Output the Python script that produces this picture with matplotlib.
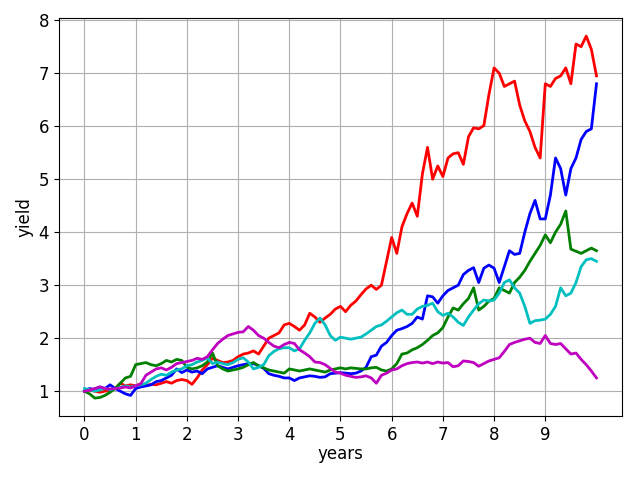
import numpy as np
import matplotlib
matplotlib.use("Agg")
import matplotlib.pyplot as plt

years = [round(0.1 * i, 1) for i in range(101)]

red = [1.00, 1.02, 1.00, 0.98, 1.00, 1.02, 1.05, 1.15, 1.10, 1.12,
       1.10, 1.14, 1.10, 1.13, 1.12, 1.15, 1.18, 1.15, 1.20, 1.22,
       1.20, 1.13, 1.25, 1.40, 1.50, 1.62, 1.58, 1.54, 1.55, 1.58,
       1.65, 1.70, 1.72, 1.76, 1.70, 1.85, 2.00, 2.05, 2.10, 2.25,
       2.28, 2.22, 2.15, 2.25, 2.47, 2.40, 2.30, 2.38, 2.45, 2.55,
       2.60, 2.50, 2.62, 2.70, 2.82, 2.93, 3.00, 2.92, 3.00, 3.45,
       3.90, 3.60, 4.10, 4.35, 4.55, 4.30, 5.10, 5.60, 5.00, 5.25,
       5.05, 5.40, 5.48, 5.50, 5.28, 5.80, 5.97, 5.95, 6.01, 6.60,
       7.10, 7.00, 6.75, 6.80, 6.85, 6.40, 6.10, 5.90, 5.60, 5.40,
       6.80, 6.75, 6.90, 6.95, 7.10, 6.80, 7.55, 7.50, 7.70, 7.45,
       6.95]

blue = [1.00, 1.05, 1.03, 1.08, 1.05, 1.12, 1.05, 1.00, 0.95, 0.92,
        1.05, 1.08, 1.10, 1.12, 1.18, 1.20, 1.25, 1.30, 1.42, 1.35,
        1.40, 1.36, 1.38, 1.33, 1.42, 1.45, 1.48, 1.45, 1.42, 1.45,
        1.48, 1.50, 1.52, 1.52, 1.48, 1.43, 1.33, 1.30, 1.28, 1.25,
        1.25, 1.20, 1.25, 1.27, 1.29, 1.28, 1.26, 1.27, 1.33, 1.34,
        1.35, 1.34, 1.33, 1.34, 1.38, 1.45, 1.65, 1.68, 1.85, 1.92,
        2.05, 2.15, 2.18, 2.22, 2.28, 2.40, 2.36, 2.80, 2.78, 2.66,
        2.80, 2.90, 2.95, 3.00, 3.20, 3.28, 3.33, 3.05, 3.32, 3.38,
        3.32, 3.05, 3.35, 3.65, 3.58, 3.60, 4.00, 4.35, 4.60, 4.25,
        4.25, 4.70, 5.40, 5.20, 4.70, 5.20, 5.40, 5.75, 5.90, 5.95,
        6.80]

green = [1.00, 0.95, 0.87, 0.88, 0.92, 0.98, 1.05, 1.15, 1.25, 1.28,
         1.50, 1.52, 1.54, 1.50, 1.48, 1.52, 1.58, 1.55, 1.60, 1.58,
         1.45, 1.42, 1.44, 1.48, 1.55, 1.72, 1.48, 1.42, 1.38, 1.40,
         1.42, 1.45, 1.50, 1.54, 1.48, 1.44, 1.40, 1.38, 1.36, 1.34,
         1.42, 1.40, 1.38, 1.40, 1.42, 1.40, 1.38, 1.36, 1.40, 1.42,
         1.44, 1.42, 1.44, 1.43, 1.42, 1.42, 1.44, 1.45, 1.40, 1.38,
         1.42, 1.52, 1.70, 1.72, 1.78, 1.82, 1.88, 1.96, 2.05, 2.10,
         2.20, 2.40, 2.57, 2.53, 2.65, 2.75, 2.95, 2.53, 2.60, 2.70,
         2.75, 2.95, 2.90, 2.85, 3.05, 3.15, 3.28, 3.45, 3.60, 3.75,
         3.95, 3.80, 4.00, 4.15, 4.40, 3.68, 3.64, 3.60, 3.65, 3.70,
         3.65]

cyan = [1.05, 1.03, 1.00, 1.02, 1.05, 1.03, 1.05, 1.07, 1.10, 1.08,
        1.10, 1.12, 1.15, 1.22, 1.28, 1.32, 1.30, 1.36, 1.40, 1.42,
        1.48, 1.50, 1.55, 1.58, 1.63, 1.52, 1.55, 1.52, 1.50, 1.54,
        1.60, 1.63, 1.55, 1.42, 1.45, 1.50, 1.67, 1.75, 1.80, 1.82,
        1.82, 1.76, 1.80, 1.96, 2.10, 2.28, 2.38, 2.25, 2.05, 1.96,
        2.02, 2.00, 1.98, 2.00, 2.02, 2.08, 2.15, 2.22, 2.25, 2.32,
        2.40, 2.48, 2.53, 2.45, 2.45, 2.55, 2.60, 2.62, 2.66, 2.50,
        2.43, 2.47, 2.40, 2.30, 2.24, 2.40, 2.53, 2.65, 2.72, 2.70,
        2.72, 2.85, 3.05, 3.10, 2.95, 2.85, 2.60, 2.28, 2.33, 2.34,
        2.36, 2.45, 2.60, 2.95, 2.80, 2.85, 3.05, 3.35, 3.48, 3.50,
        3.45]

magenta = [1.00, 1.02, 1.05, 1.08, 1.05, 1.04, 1.05, 1.06, 1.08, 1.06,
           1.10, 1.14, 1.30, 1.36, 1.42, 1.44, 1.40, 1.45, 1.52, 1.54,
           1.56, 1.58, 1.62, 1.60, 1.65, 1.78, 1.90, 1.98, 2.05, 2.08,
           2.11, 2.12, 2.22, 2.15, 2.05, 2.00, 1.92, 1.85, 1.82, 1.88,
           1.92, 1.90, 1.78, 1.72, 1.65, 1.55, 1.54, 1.50, 1.43, 1.36,
           1.34, 1.30, 1.28, 1.26, 1.27, 1.29, 1.25, 1.15, 1.30, 1.34,
           1.40, 1.42, 1.48, 1.52, 1.54, 1.55, 1.53, 1.55, 1.52, 1.55,
           1.53, 1.54, 1.46, 1.48, 1.57, 1.56, 1.54, 1.47, 1.52, 1.57,
           1.60, 1.63, 1.75, 1.88, 1.92, 1.95, 1.98, 2.00, 1.92, 1.90,
           2.05, 1.90, 1.88, 1.90, 1.80, 1.70, 1.72, 1.60, 1.50, 1.38,
           1.25]

series = [(red, 'r'), (blue, 'b'), (green, 'g'), (cyan, 'c'), (magenta, 'm')]
xtick_vals = list(range(10))

fig, ax = plt.subplots(figsize=(6.4, 4.8), dpi=100)
for vals, col in series:
    ax.plot(years, vals, color=col, linewidth=2)
ax.set_xticks(xtick_vals)
ax.tick_params(labelsize=12)
ax.set_xlabel('years', fontsize=12, labelpad=1)
ax.set_ylabel('yield', fontsize=12)
ax.grid(True)
fig.subplots_adjust(left=0.092, right=0.972, bottom=0.133, top=0.9625)
fig.savefig('out.png', dpi=100)
